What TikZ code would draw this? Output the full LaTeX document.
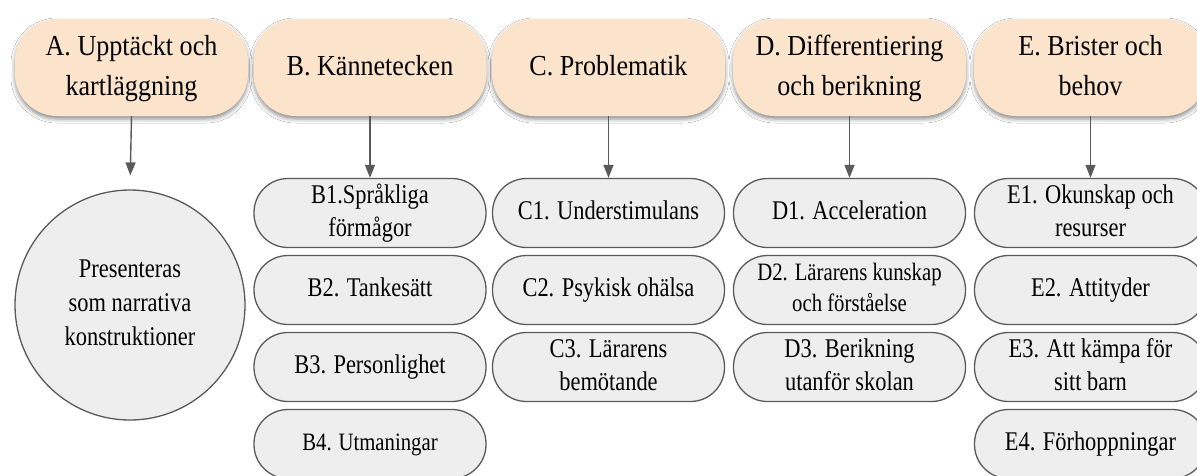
\documentclass[tikz,border=0pt]{standalone}
\usepackage{fontspec}
\usepackage{graphicx}
\setmainfont{Liberation Serif}
\usetikzlibrary{arrows.meta,shadows.blur}
\definecolor{headfill}{HTML}{FCE4CC}
\definecolor{boxfill}{HTML}{EEEEEE}
\definecolor{edge}{HTML}{5A5A5A}

% horizontally condensed, centred block of lines
\newcommand\narrowtext[2]{\scalebox{#1}[1]{\begin{tabular}{@{}c@{}}#2\end{tabular}}}
\newcommand\hd[1]{\narrowtext{0.9}{#1}}
\newcommand\bd[1]{\narrowtext{0.83}{#1}}

\begin{document}
\begin{tikzpicture}[x=1pt,y=-1pt,
  head/.style={rectangle, rounded corners=42pt, fill=headfill,
    minimum width=233pt, minimum height=97pt, align=center, inner sep=0pt,
    font=\fontsize{29}{40}\selectfont,
    blur shadow={shadow xshift=0pt, shadow yshift=-3pt,
      shadow blur radius=4pt, shadow opacity=45}},
  item/.style={rectangle, rounded corners=34pt, draw=edge, line width=1.3pt,
    fill=boxfill, minimum width=232pt, minimum height=69pt, align=center,
    inner sep=0pt, font=\fontsize{27}{33}\selectfont},
  small/.style={font=\fontsize{25}{31}\selectfont},
  bubble/.style={circle, draw=edge, line width=1.3pt, fill=boxfill,
    minimum size=230pt, align=center, inner sep=0pt,
    font=\fontsize{27}{34}\selectfont},
  arr/.style={draw=edge, line width=1.4pt, -{Triangle[width=10pt,length=13pt]}}]

\useasboundingbox (0,0) rectangle (1197,475);
\clip (0,0) rectangle (1197,475);
\fill[white] (0,0) rectangle (1197,475);

% column headers
\node[head] (A) at (131.5,67.5) {\hd{A. Upptäckt och\\kartläggning}};
\node[head] (B) at (370,67.5) {\hd{B. Kännetecken}};
\node[head] (C) at (608.5,67.5) {\hd{C. Problematik}};
\node[head] (D) at (849.5,67.5) {\hd{D. Differentiering\\och berikning}};
\node[head] (E) at (1090.5,67.5) {\hd{E. Brister och\\behov}};

% column A
\node[bubble] (P) at (130,305) {\bd{Presenteras\\som narrativa\\konstruktioner}};

% column B
\node[item] (B1) at (370,213) {\bd{B1.Språkliga\\förmågor}};
\node[item] (B2) at (370,290) {\bd{B2. Tankesätt}};
\node[item] (B3) at (370,367) {\bd{B3. Personlighet}};
\node[item,small] (B4) at (370,444) {\bd{B4. Utmaningar}};

% column C
\node[item] (C1) at (608.5,213) {\bd{C1. Understimulans}};
\node[item] (C2) at (608.5,290) {\bd{C2. Psykisk ohälsa}};
\node[item] (C3) at (608.5,367) {\bd{C3. Lärarens\\bemötande}};

% column D
\node[item] (D1) at (849.5,213) {\bd{D1. Acceleration}};
\node[item,small] (D2) at (849.5,290) {\bd{D2. Lärarens kunskap\\och förståelse}};
\node[item] (D3) at (849.5,367) {\bd{D3. Berikning\\utanför skolan}};

% column E
\node[item] (E1) at (1090.5,213) {\bd{E1. Okunskap och\\resurser}};
\node[item] (E2) at (1090.5,290) {\bd{E2. Attityder}};
\node[item] (E3) at (1090.5,367) {\bd{E3. Att kämpa för\\sitt barn}};
\node[item] (E4) at (1090.5,444) {\bd{E4. Förhoppningar}};

% connectors
\draw[arr, shorten >=14pt] (A.south) -- (P.north);
\draw[arr] (B.south) -- (B1.north);
\draw[arr] (C.south) -- (C1.north);
\draw[arr] (D.south) -- (D1.north);
\draw[arr] (E.south) -- (E1.north);
\end{tikzpicture}
\end{document}
